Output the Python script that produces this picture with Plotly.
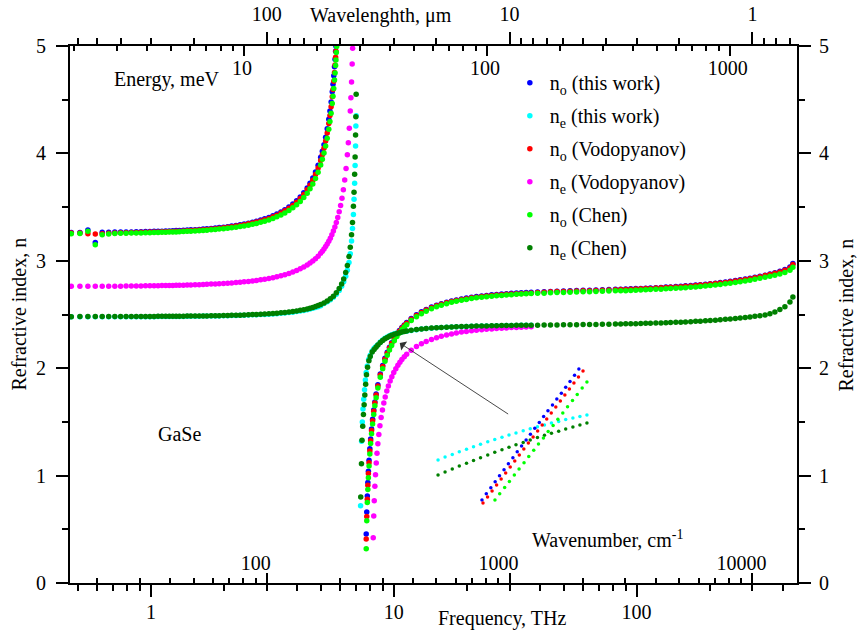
import math
import plotly.graph_objects as go

# ---------------- data (frequency in THz, refractive index n) ----------------
F_LOW = [0.47, 0.51, 0.55, 0.59, 0.63, 0.67, 0.71, 0.75, 0.79, 0.83, 0.87, 0.91, 0.95, 0.99, 1.03, 1.07, 1.11,
         1.15, 1.19, 1.23, 1.27, 1.31,
         1.36, 1.41, 1.46, 1.52, 1.58, 1.64, 1.70, 1.77, 1.84, 1.91, 1.99, 2.07, 2.15, 2.24, 2.33, 2.42, 2.52,
         2.62, 2.72, 2.83, 2.94, 3.06, 3.18, 3.30, 3.43, 3.56, 3.70, 3.84, 3.98, 4.12, 4.26, 4.40, 4.52, 4.64,
         4.76, 4.88, 5.00]
F_RES_O = [5.08, 5.16, 5.24, 5.32, 5.40, 5.46, 5.52, 5.58, 5.62, 5.66, 5.70, 5.73, 5.76, 5.78]
F_RES_O_CHEN_EXTRA = [5.80, 5.82]
F_RES_E = [5.16, 5.32, 5.48, 5.64, 5.80, 5.96, 6.10, 6.22, 6.34, 6.44, 6.54, 6.62, 6.70, 6.76, 6.82, 6.86,
           6.90, 6.93, 6.96, 6.98, 7.00]
F_RES_V = [5.08, 5.16, 5.24, 5.32, 5.40, 5.48, 5.56, 5.64, 5.72, 5.80, 5.88, 5.96, 6.04, 6.12, 6.20, 6.28,
           6.36, 6.44, 6.50, 6.56, 6.62, 6.66, 6.70, 6.74, 6.77]

F_ON_O = [7.70, 7.74, 7.78, 7.82, 7.86, 7.91, 7.97, 8.03, 8.10, 8.18, 8.27, 8.36, 8.46]
F_ON_E_THIS = [7.30, 7.37, 7.42, 7.47, 7.52, 7.58, 7.64, 7.70, 7.78, 7.88, 8.00, 8.15, 8.30, 8.45]
F_ON_E_CHEN = [7.31, 7.36, 7.40, 7.45, 7.50, 7.55, 7.60, 7.66, 7.72, 7.80, 7.90, 8.00, 8.15, 8.30, 8.45]
F_ON_V = [8.23, 8.27, 8.31, 8.36, 8.41, 8.47, 8.53, 8.60, 8.68, 8.77, 8.87, 8.98, 9.10, 9.22, 9.36, 9.50,
          9.66, 9.82, 10.0, 10.2, 10.4, 10.6, 10.8, 11.05]
F_HI_A = [8.6, 8.8, 9.0, 9.2, 9.4, 9.6, 9.8, 10.05, 10.3, 10.55, 10.8, 11.05]
F_HI_B = [11.3, 11.8, 12.4, 13.0, 13.6, 14.3, 15.0, 15.7, 16.5, 17.3, 18.1, 19.0, 19.9, 20.9, 21.9, 23.0,
          24.1, 25.3, 26.5, 27.8, 29.1, 30.5, 32.0, 33.5, 35.1, 36.8,
          39.1, 41.6, 44.2, 47.0, 50.0, 53.2, 56.6, 60.2, 64.0, 68.0, 72.3, 76.9, 81.8,
          86.0, 90.2, 94.6, 99.2, 104, 109, 114, 120, 126, 132,
          138, 145, 152, 159, 167, 175, 183, 192, 201, 211,
          221, 232, 243, 255, 267, 280, 293, 307, 322, 338,
          354, 371, 389, 408, 428, 440]
N_MID = 26  # number of F_HI_B points covered by the shorter data sets

# n_o (this work)
NO_THIS_LOW = [3.263, 3.264, 3.287, 3.170, 3.265, 3.266, 3.267, 3.267, 3.268, 3.269, 3.270, 3.271, 3.272, 3.273,
               3.274, 3.275, 3.276, 3.277, 3.278, 3.279, 3.281, 3.282,
               3.284, 3.286, 3.288, 3.290, 3.292, 3.295, 3.298, 3.301, 3.305, 3.309, 3.313, 3.318, 3.323, 3.329,
               3.335, 3.342, 3.350, 3.359, 3.368, 3.379, 3.391, 3.404, 3.419, 3.435, 3.455, 3.476, 3.501, 3.529,
               3.560, 3.595, 3.634, 3.679, 3.722, 3.771, 3.826, 3.890, 3.963,
               4.019, 4.081, 4.151, 4.229, 4.319, 4.395, 4.479, 4.575, 4.645, 4.723, 4.807, 4.876, 4.951, 4.998]
NO_THIS_HIGH = [0.456, 0.660, 0.810, 0.936, 1.040, 1.142, 1.249, 1.341, 1.433, 1.524, 1.611, 1.686, 1.759,
                1.845, 1.946, 2.026, 2.093, 2.149, 2.196, 2.237, 2.281, 2.319, 2.351, 2.379, 2.403,
                2.425, 2.462, 2.497, 2.525, 2.547, 2.569, 2.587, 2.601, 2.615, 2.626, 2.636, 2.645, 2.653, 2.661,
                2.667, 2.673, 2.678, 2.683, 2.687, 2.690, 2.694, 2.697, 2.700, 2.702, 2.705, 2.707,
                2.710, 2.712, 2.715, 2.717, 2.719, 2.721, 2.723, 2.725, 2.726, 2.728, 2.730, 2.732, 2.734,
                2.736, 2.737, 2.739, 2.741, 2.743, 2.745, 2.747, 2.750, 2.752, 2.755,
                2.757, 2.760, 2.763, 2.767, 2.770, 2.774, 2.778, 2.782, 2.787, 2.792,
                2.797, 2.803, 2.809, 2.816, 2.823, 2.830, 2.838, 2.847, 2.856, 2.866,
                2.877, 2.888, 2.902, 2.918, 2.942, 2.975]

# n_o (Vodopyanov)
NO_VOD_LOW = [3.258, 3.259, 3.252, 3.250, 3.252, 3.256, 3.259, 3.261, 3.262, 3.263, 3.264, 3.265, 3.266, 3.267,
              3.268, 3.269, 3.270, 3.271, 3.272, 3.273, 3.275, 3.276,
              3.278, 3.280, 3.282, 3.284, 3.286, 3.289, 3.292, 3.295, 3.299, 3.303, 3.307, 3.312, 3.317, 3.323,
              3.329, 3.336, 3.344, 3.352, 3.361, 3.371, 3.382, 3.395, 3.409, 3.425, 3.444, 3.465, 3.489, 3.516,
              3.546, 3.580, 3.618, 3.661, 3.703, 3.750, 3.803, 3.864, 3.934,
              3.988, 4.048, 4.115, 4.191, 4.278, 4.352, 4.434, 4.527, 4.595, 4.672, 4.754, 4.822, 4.895, 4.950]
NO_VOD_HIGH = [0.41, 0.62, 0.78, 0.91, 1.02, 1.12, 1.23, 1.325, 1.42, 1.51, 1.60, 1.676, 1.75,
               1.835, 1.936, 2.016, 2.084, 2.140, 2.188, 2.229, 2.274, 2.312, 2.345, 2.373, 2.398,
               2.419, 2.456, 2.491, 2.519, 2.541, 2.563, 2.581, 2.595, 2.609, 2.620, 2.630, 2.639, 2.647, 2.655,
               2.661, 2.667, 2.672, 2.677, 2.681, 2.684, 2.688, 2.691, 2.694, 2.696, 2.699, 2.701,
               2.706, 2.708, 2.711, 2.713, 2.715, 2.717, 2.719, 2.721, 2.722, 2.724, 2.726, 2.728, 2.730,
               2.732, 2.733, 2.735, 2.737, 2.739, 2.741, 2.743, 2.746, 2.748, 2.751,
               2.753, 2.756, 2.759, 2.763, 2.766, 2.770, 2.774, 2.778, 2.783, 2.788,
               2.793, 2.799, 2.805, 2.812, 2.819, 2.826, 2.834, 2.843, 2.852, 2.862,
               2.872, 2.883, 2.896, 2.911, 2.934, 2.965]

# n_o (Chen)
NO_CHEN_LOW = [3.253, 3.255, 3.275, 3.150, 3.243, 3.250, 3.254, 3.256, 3.257, 3.258, 3.259, 3.260, 3.261, 3.262,
               3.263, 3.264, 3.265, 3.266, 3.267, 3.268, 3.269, 3.270,
               3.272, 3.274, 3.276, 3.278, 3.280, 3.282, 3.285, 3.288, 3.291, 3.295, 3.299, 3.303, 3.308, 3.313,
               3.319, 3.325, 3.332, 3.340, 3.348, 3.358, 3.369, 3.381, 3.394, 3.409, 3.426, 3.446, 3.468, 3.493,
               3.521, 3.553, 3.589, 3.630, 3.670, 3.715, 3.766, 3.825, 3.893,
               3.945, 4.003, 4.068, 4.141, 4.225, 4.296, 4.375, 4.465, 4.531, 4.604, 4.683, 4.748, 4.818, 4.870,
               4.940, 4.995]
NO_CHEN_HIGH = [0.32, 0.58, 0.75, 0.87, 0.98, 1.09, 1.20, 1.30, 1.39, 1.48, 1.57, 1.65, 1.725,
                1.815, 1.916, 1.996, 2.064, 2.121, 2.169, 2.211, 2.256, 2.295, 2.328, 2.357, 2.383,
                2.405, 2.443, 2.479, 2.508, 2.531, 2.553, 2.572, 2.587, 2.601, 2.613, 2.623, 2.632, 2.640, 2.648,
                2.655, 2.661, 2.666, 2.671, 2.675, 2.678, 2.682, 2.685, 2.688, 2.690, 2.693, 2.695,
                2.697, 2.699, 2.702, 2.704, 2.706, 2.708, 2.710, 2.711, 2.712, 2.714, 2.716, 2.718, 2.720,
                2.721, 2.722, 2.724, 2.726, 2.728, 2.730, 2.732, 2.734, 2.736, 2.739,
                2.741, 2.744, 2.747, 2.750, 2.753, 2.757, 2.761, 2.765, 2.770, 2.775,
                2.780, 2.786, 2.792, 2.799, 2.805, 2.812, 2.820, 2.828, 2.837, 2.846,
                2.856, 2.866, 2.878, 2.892, 2.912, 2.940]

# n_e (this work)
NE_THIS_LOW = [2.478, 2.479, 2.479, 2.479, 2.479, 2.479, 2.479, 2.479, 2.479, 2.480, 2.480, 2.480, 2.480, 2.480,
               2.480, 2.481, 2.481, 2.481, 2.481, 2.482, 2.482, 2.482,
               2.482, 2.483, 2.483, 2.484, 2.484, 2.485, 2.485, 2.486, 2.486, 2.487, 2.488, 2.489, 2.490, 2.491,
               2.492, 2.493, 2.495, 2.497, 2.498, 2.499, 2.501, 2.503, 2.505, 2.508, 2.511, 2.514, 2.518, 2.522,
               2.527, 2.532, 2.538, 2.544, 2.551, 2.558, 2.565, 2.573, 2.582,
               2.602, 2.618, 2.637, 2.660, 2.688, 2.724, 2.762, 2.804, 2.856, 2.912, 2.985, 3.065, 3.185, 3.300,
               3.430, 3.574, 3.723, 3.887, 4.069, 4.256, 4.350]
NE_THIS_HIGH = [0.72, 1.32, 1.50, 1.62, 1.71, 1.80, 1.89, 1.96, 2.02, 2.08, 2.12, 2.16, 2.185, 2.203,
                2.219, 2.243, 2.263, 2.278, 2.291, 2.302, 2.311, 2.320, 2.327, 2.333, 2.338, 2.343,
                2.345, 2.352, 2.359, 2.364, 2.369, 2.373, 2.376, 2.379, 2.381, 2.383, 2.385, 2.387, 2.388,
                2.390, 2.391, 2.392, 2.393, 2.394, 2.395, 2.396, 2.397, 2.397, 2.398, 2.399, 2.399, 2.399]

# n_e (Vodopyanov)
NE_VOD_LOW = [2.762, 2.762, 2.763, 2.763, 2.763, 2.764, 2.764, 2.764, 2.765, 2.765, 2.766, 2.766, 2.767, 2.767,
              2.768, 2.768, 2.769, 2.770, 2.770, 2.771, 2.772, 2.772,
              2.773, 2.774, 2.775, 2.777, 2.778, 2.779, 2.781, 2.783, 2.784, 2.786, 2.789, 2.791, 2.794, 2.797,
              2.801, 2.804, 2.808, 2.813, 2.817, 2.823, 2.829, 2.836, 2.843, 2.851, 2.860, 2.870, 2.882, 2.895,
              2.909, 2.925, 2.942, 2.961, 2.979, 2.998, 3.020, 3.043, 3.070,
              3.089, 3.110, 3.132, 3.156, 3.182, 3.211, 3.242, 3.277, 3.315, 3.357, 3.404, 3.456, 3.516, 3.583,
              3.661, 3.752, 3.859, 3.987, 4.100, 4.234, 4.394, 4.519, 4.664, 4.832, 4.979]
NE_VOD_HIGH = [0.422, 0.623, 0.765, 0.900, 1.009, 1.117, 1.207, 1.296, 1.382, 1.463, 1.540, 1.610, 1.676, 1.731,
               1.787, 1.834, 1.881, 1.921, 1.959, 1.996, 2.028, 2.055, 2.080, 2.106,
               2.129, 2.166, 2.201, 2.227, 2.249, 2.268, 2.284, 2.297, 2.309, 2.319, 2.328, 2.336, 2.342,
               2.348, 2.354, 2.359, 2.363, 2.366, 2.370, 2.373, 2.375, 2.378, 2.380, 2.382, 2.383, 2.385]

# n_e (Chen)
NE_CHEN_LOW = [2.480, 2.481, 2.481, 2.481, 2.481, 2.481, 2.481, 2.481, 2.481, 2.482, 2.482, 2.482, 2.482, 2.482,
               2.482, 2.483, 2.483, 2.483, 2.483, 2.484, 2.484, 2.484,
               2.484, 2.485, 2.485, 2.486, 2.486, 2.487, 2.487, 2.488, 2.488, 2.489, 2.490, 2.491, 2.492, 2.493,
               2.494, 2.495, 2.497, 2.499, 2.500, 2.502, 2.504, 2.507, 2.509, 2.512, 2.516, 2.519, 2.524, 2.528,
               2.533, 2.539, 2.545, 2.552, 2.559, 2.566, 2.574, 2.583, 2.593,
               2.607, 2.625, 2.646, 2.671, 2.702, 2.741, 2.784, 2.831, 2.891, 2.956, 3.039, 3.127, 3.242, 3.357,
               3.508, 3.639, 3.807, 3.967, 4.171, 4.341, 4.550]
NE_CHEN_HIGH = [0.80, 1.11, 1.33, 1.46, 1.57, 1.66, 1.75, 1.85, 1.94, 2.01, 2.07, 2.11, 2.15, 2.175, 2.195,
                2.215, 2.239, 2.259, 2.274, 2.287, 2.298, 2.307, 2.316, 2.324, 2.330, 2.336, 2.341,
                2.346, 2.353, 2.360, 2.365, 2.370, 2.374, 2.377, 2.380, 2.382, 2.384, 2.386, 2.388, 2.389,
                2.391, 2.392, 2.393, 2.394, 2.395, 2.396, 2.397, 2.398, 2.398, 2.399, 2.400, 2.400, 2.400,
                2.401, 2.402, 2.402, 2.403, 2.404, 2.405, 2.405, 2.406, 2.407, 2.408, 2.409, 2.410, 2.411,
                2.412, 2.413, 2.414, 2.415, 2.416, 2.418, 2.419, 2.420, 2.422, 2.423,
                2.425, 2.427, 2.429, 2.431, 2.433, 2.436, 2.438, 2.441, 2.444, 2.447,
                2.451, 2.455, 2.459, 2.463, 2.467, 2.472, 2.477, 2.483, 2.489, 2.496,
                2.508, 2.523, 2.547, 2.573, 2.617, 2.663]

# inset: magnified crossing region (frequency THz, n)
INSET_F = [9.939, 9.973, 10.008, 10.042, 10.077, 10.111, 10.145, 10.180, 10.214, 10.249, 10.283, 10.317,
           10.352, 10.386, 10.421, 10.455, 10.489, 10.524, 10.558, 10.593, 10.627, 10.661]
INSET_NE_THIS = [2.3047, 2.3066, 2.3084, 2.3101, 2.3119, 2.3135, 2.3152, 2.3168, 2.3183, 2.3199, 2.3213,
                 2.3227, 2.3241, 2.3255, 2.3268, 2.3280, 2.3293, 2.3304, 2.3316, 2.3326, 2.3337, 2.3347]
INSET_NE_CHEN = [2.2947, 2.2967, 2.2987, 2.3006, 2.3025, 2.3044, 2.3062, 2.3080, 2.3098, 2.3115, 2.3132,
                 2.3148, 2.3164, 2.3180, 2.3196, 2.3211, 2.3225, 2.3239, 2.3253, 2.3267, 2.3280, 2.3293]
INSET_NO_THIS_F = [10.152, 10.173, 10.195, 10.216, 10.237, 10.259, 10.280, 10.302, 10.323, 10.344, 10.366,
                   10.387, 10.408, 10.430, 10.451, 10.472, 10.494, 10.515, 10.537, 10.558, 10.579, 10.601, 10.622]
INSET_NO_THIS = [2.2780, 2.2821, 2.2862, 2.2902, 2.2942, 2.2982, 2.3022, 2.3062, 2.3101, 2.3140, 2.3180,
                 2.3219, 2.3258, 2.3297, 2.3336, 2.3375, 2.3414, 2.3453, 2.3492, 2.3531, 2.3570, 2.3612, 2.3653]
INSET_NO_VOD_F = [10.157, 10.179, 10.201, 10.223, 10.245, 10.267, 10.289, 10.311, 10.333, 10.355, 10.377,
                  10.400, 10.422, 10.444, 10.466, 10.488, 10.510, 10.532, 10.554, 10.576, 10.598, 10.620, 10.642]
INSET_NO_VOD = [2.2760, 2.2800, 2.2840, 2.2880, 2.2920, 2.2960, 2.3000, 2.3040, 2.3080, 2.3120, 2.3160,
                2.3200, 2.3240, 2.3280, 2.3320, 2.3360, 2.3400, 2.3440, 2.3480, 2.3520, 2.3560, 2.3600, 2.3640]
INSET_NO_CHEN_F = [10.215, 10.238, 10.262, 10.285, 10.309, 10.332, 10.356, 10.379, 10.403, 10.426, 10.450,
                   10.473, 10.497, 10.520, 10.544, 10.567, 10.591, 10.614, 10.638, 10.661]
INSET_NO_CHEN = [2.2780, 2.2821, 2.2863, 2.2904, 2.2946, 2.2987, 2.3029, 2.3070, 2.3111, 2.3153, 2.3194,
                 2.3236, 2.3277, 2.3319, 2.3360, 2.3401, 2.3443, 2.3484, 2.3526, 2.3567]

# axis tick values
FREQ_TICKS = [1, 10, 100]
FREQ_MINOR = [0.5, 0.6, 0.7, 0.8, 0.9, 2, 3, 4, 5, 6, 7, 8, 9, 20, 30, 40, 50, 60, 70, 80, 90, 200, 300, 400]
WN_TICKS = [100, 1000, 10000]
WN_MINOR = [20, 30, 40, 50, 60, 70, 80, 90, 200, 300, 400, 500, 600, 700, 800, 900,
            2000, 3000, 4000, 5000, 6000, 7000, 8000, 9000]
WL_TICKS = [1, 10, 100]
WL_MINOR = [0.7, 0.8, 0.9, 2, 3, 4, 5, 6, 7, 8, 9, 20, 30, 40, 50, 60, 70, 80, 90, 200, 300, 400, 500, 600]
EN_TICKS = [10, 100, 1000]
EN_MINOR = [2, 3, 4, 5, 6, 7, 8, 9, 20, 30, 40, 50, 60, 70, 80, 90, 200, 300, 400, 500, 600, 700, 800, 900]
N_TICKS = [0, 1, 2, 3, 4, 5]
N_MINOR = [0.5, 1.5, 2.5, 3.5, 4.5]

# ---------------- assemble series ----------------
series = [
    ("n<sub>o</sub> (this work)", "#0000FF",
     F_LOW + F_RES_O + F_ON_O + F_HI_A + F_HI_B, NO_THIS_LOW + NO_THIS_HIGH),
    ("n<sub>e</sub> (this work)", "#00FFFF",
     F_LOW + F_RES_E + F_ON_E_THIS + F_HI_A + F_HI_B[:N_MID], NE_THIS_LOW + NE_THIS_HIGH),
    ("n<sub>o</sub> (Vodopyanov)", "#FF0000",
     F_LOW + F_RES_O + F_ON_O + F_HI_A + F_HI_B, NO_VOD_LOW + NO_VOD_HIGH),
    ("n<sub>e</sub> (Vodopyanov)", "#FF00FF",
     F_LOW + F_RES_V + F_ON_V + F_HI_B[:N_MID], NE_VOD_LOW + NE_VOD_HIGH),
    ("n<sub>o</sub> (Chen)", "#00FF00",
     F_LOW + F_RES_O + F_RES_O_CHEN_EXTRA + F_ON_O + F_HI_A + F_HI_B, NO_CHEN_LOW + NO_CHEN_HIGH),
    ("n<sub>e</sub> (Chen)", "#008000",
     F_LOW + F_RES_E + F_ON_E_CHEN + F_HI_A + F_HI_B, NE_CHEN_LOW + NE_CHEN_HIGH),
]
for name, _, xs, ys in series:
    assert len(xs) == len(ys), (name, len(xs), len(ys))

inset = [
    ("#00FFFF", INSET_F, INSET_NE_THIS),
    ("#008000", INSET_F, INSET_NE_CHEN),
    ("#0000FF", INSET_NO_THIS_F, INSET_NO_THIS),
    ("#FF0000", INSET_NO_VOD_F, INSET_NO_VOD),
    ("#00FF00", INSET_NO_CHEN_F, INSET_NO_CHEN),
]
for c, xs, ys in inset:
    assert len(xs) == len(ys), (c, len(xs), len(ys))

FONT = "Liberation Serif"
fig = go.Figure()
for i, (name, color, xs, ys) in enumerate(series):
    fig.add_trace(go.Scatter(x=xs, y=ys, mode="markers", name=name, legendgroup=f"g{i}",
                             marker=dict(color=color, size=5.5, line=dict(width=0)),
                             xaxis="x", yaxis="y"))
for color, xs, ys in inset:
    fig.add_trace(go.Scatter(x=xs, y=ys, mode="markers", showlegend=False,
                             marker=dict(color=color, size=3.5, line=dict(width=0)),
                             xaxis="x5", yaxis="y5"))
# invisible anchors so that the secondary scales are drawn
for xa, ya in [("x2", "y"), ("x3", "y3"), ("x4", "y3"), ("x", "y2")]:
    fig.add_trace(go.Scatter(x=[10], y=[-1], mode="markers", showlegend=False, hoverinfo="skip",
                             marker=dict(opacity=0), xaxis=xa, yaxis=ya))

# axis ranges (log10) from the frequency range 0.4642 - 457.6 THz
F_MIN, F_MAX = 0.4642, 457.6
lf = [math.log10(F_MIN), math.log10(F_MAX)]
lwl = [math.log10(299.79 / F_MIN), math.log10(299.79 / F_MAX)]
lwn = [math.log10(33.3564 * F_MIN), math.log10(33.3564 * F_MAX)]
len_ = [math.log10(4.13567 * F_MIN), math.log10(4.13567 * F_MAX)]

common = dict(type="log", showgrid=False, zeroline=False, tickcolor="black", tickwidth=1.8,
              automargin=False, tickfont=dict(family=FONT, size=20, color="black"))


def minor(vals, where, ln):
    return dict(tickmode="array", tickvals=vals, ticks=where, ticklen=ln, tickwidth=1.5,
                tickcolor="black", showgrid=False)


yminor = dict(tickmode="array", tickvals=N_MINOR, ticks="outside", ticklen=6, tickwidth=1.5, tickcolor="black")

fig.update_layout(
    width=859, height=634,
    margin=dict(l=70, r=62, t=46, b=51, autoexpand=False),
    paper_bgcolor="white", plot_bgcolor="white",
    font=dict(family=FONT, size=20, color="black"),
    xaxis=dict(common, range=lf, anchor="y", side="bottom", tickmode="array", tickvals=FREQ_TICKS,
               ticktext=["1", "10", "100"], ticks="outside", ticklen=12, ticklabelstandoff=-2,
               minor=minor(FREQ_MINOR, "outside", 6),
               showline=True, linewidth=2, linecolor="black"),
    xaxis2=dict(common, range=lwl, overlaying="x", anchor="y", side="top", tickmode="array",
                tickvals=WL_TICKS, ticktext=["1", "10", "100"], ticks="outside", ticklen=12,
                ticklabelstandoff=3, minor=minor(WL_MINOR, "outside", 6),
                showline=True, linewidth=2, linecolor="black"),
    xaxis3=dict(common, range=lwn, overlaying="x", anchor="y3", side="bottom", tickmode="array",
                tickvals=WN_TICKS, ticktext=["100", "1000", "10000"], ticks="inside", ticklen=10,
                ticklabelposition="inside", ticklabelshift=-11, minor=minor(WN_MINOR, "inside", 5),
                showline=False),
    xaxis4=dict(common, range=len_, overlaying="x", anchor="y3", side="top", tickmode="array",
                tickvals=EN_TICKS, ticktext=["10", "100", "1000"], ticks="inside", ticklen=10,
                ticklabelposition="inside", ticklabelshift=-2, ticklabelstandoff=6,
                minor=minor(EN_MINOR, "inside", 5), showline=False),
    yaxis=dict(range=[0, 5], anchor="x", side="left", tickmode="array", tickvals=N_TICKS,
               ticks="outside", ticklen=12, tickwidth=1.8, tickcolor="black", minor=yminor,
               showline=True, linewidth=2, linecolor="black", showgrid=False, zeroline=False,
               automargin=False, tickfont=dict(family=FONT, size=20, color="black"), ticklabelstandoff=6),
    yaxis2=dict(range=[0, 5], overlaying="y", anchor="x", side="right", tickmode="array", tickvals=N_TICKS,
                ticks="outside", ticklen=12, tickwidth=1.8, tickcolor="black", minor=yminor,
                showline=True, linewidth=2, linecolor="black", showgrid=False, zeroline=False,
                automargin=False, tickfont=dict(family=FONT, size=20, color="black"), ticklabelstandoff=4),
    yaxis3=dict(range=[0, 5], overlaying="y", anchor="x", side="left", showticklabels=False,
                ticks="", showline=False, showgrid=False, zeroline=False, automargin=False),
    xaxis5=dict(domain=[0.4952, 0.7221], range=[9.9, 10.7], anchor="y5", visible=False),
    yaxis5=dict(domain=[0.1322, 0.4115], range=[2.27, 2.37], anchor="x5", visible=False),
    showlegend=True,
    legend=dict(x=0.605, y=0.968, xanchor="left", yanchor="top", bgcolor="rgba(0,0,0,0)",
                font=dict(family=FONT, size=20, color="black"), tracegroupgap=4,
                itemwidth=30),
)

ann_font = dict(family=FONT, size=20, color="black")
fig.add_annotation(text="Energy, meV", xref="paper", yref="paper", x=0.133, y=0.9367,
                   showarrow=False, font=ann_font, xanchor="center", yanchor="middle")
fig.add_annotation(text="GaSe", xref="paper", yref="paper", x=0.1513, y=0.2775,
                   showarrow=False, font=ann_font, xanchor="center", yanchor="middle")
fig.add_annotation(text="Wavenumber, cm<sup>-1</sup>", xref="paper", yref="paper", x=0.740, y=0.082,
                   showarrow=False, font=ann_font, xanchor="center", yanchor="middle")
fig.add_annotation(text="Frequency, THz", xref="paper", yref="paper", x=0.594, y=-0.067,
                   showarrow=False, font=ann_font, xanchor="center", yanchor="middle")
fig.add_annotation(text="Wavelenghth, \u03bcm", xref="paper", yref="paper", x=0.4278, y=1.0559,
                   showarrow=False, font=ann_font, xanchor="center", yanchor="middle")
fig.add_annotation(text="Refractive index, n", xref="paper", yref="paper", x=-0.0715, y=0.5,
                   showarrow=False, font=ann_font, textangle=-90, xanchor="center", yanchor="middle")
fig.add_annotation(text="Refractive index, n", xref="paper", yref="paper", x=1.0674, y=0.5,
                   showarrow=False, font=ann_font, textangle=-90, xanchor="center", yanchor="middle")
# arrow from the inset to the crossing region
fig.add_annotation(text="", xref="x", yref="y", axref="x", ayref="y",
                   x=math.log10(10.58), y=2.235, ax=math.log10(30.0), ay=1.564,
                   showarrow=True, arrowhead=1, arrowsize=2, arrowwidth=0.9, arrowcolor="#333333")

fig.write_html("out.html")
